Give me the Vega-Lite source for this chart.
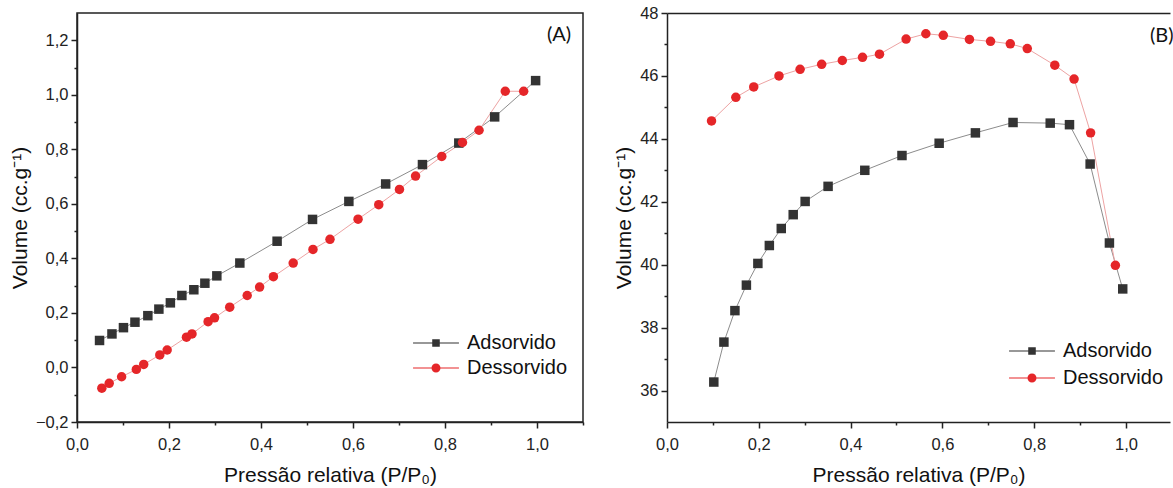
{
  "$schema": "https://vega.github.io/schema/vega-lite/v6.json",
  "padding": {"left": 8, "top": 5, "right": 0, "bottom": 0},
  "spacing": 28,
  "datasets": {
    "A": [
      {"p": 0.049, "v": 0.099, "s": "Adsorvido"},
      {"p": 0.076, "v": 0.123, "s": "Adsorvido"},
      {"p": 0.101, "v": 0.146, "s": "Adsorvido"},
      {"p": 0.126, "v": 0.166, "s": "Adsorvido"},
      {"p": 0.154, "v": 0.19, "s": "Adsorvido"},
      {"p": 0.178, "v": 0.214, "s": "Adsorvido"},
      {"p": 0.203, "v": 0.237, "s": "Adsorvido"},
      {"p": 0.228, "v": 0.264, "s": "Adsorvido"},
      {"p": 0.254, "v": 0.285, "s": "Adsorvido"},
      {"p": 0.278, "v": 0.309, "s": "Adsorvido"},
      {"p": 0.304, "v": 0.336, "s": "Adsorvido"},
      {"p": 0.354, "v": 0.383, "s": "Adsorvido"},
      {"p": 0.435, "v": 0.463, "s": "Adsorvido"},
      {"p": 0.512, "v": 0.543, "s": "Adsorvido"},
      {"p": 0.591, "v": 0.609, "s": "Adsorvido"},
      {"p": 0.671, "v": 0.673, "s": "Adsorvido"},
      {"p": 0.751, "v": 0.744, "s": "Adsorvido"},
      {"p": 0.83, "v": 0.823, "s": "Adsorvido"},
      {"p": 0.908, "v": 0.919, "s": "Adsorvido"},
      {"p": 0.997, "v": 1.052, "s": "Adsorvido"},
      {"p": 0.054, "v": -0.076, "s": "Dessorvido"},
      {"p": 0.07, "v": -0.058, "s": "Dessorvido"},
      {"p": 0.097, "v": -0.034, "s": "Dessorvido"},
      {"p": 0.129, "v": -0.007, "s": "Dessorvido"},
      {"p": 0.145, "v": 0.011, "s": "Dessorvido"},
      {"p": 0.18, "v": 0.046, "s": "Dessorvido"},
      {"p": 0.196, "v": 0.064, "s": "Dessorvido"},
      {"p": 0.238, "v": 0.111, "s": "Dessorvido"},
      {"p": 0.25, "v": 0.123, "s": "Dessorvido"},
      {"p": 0.285, "v": 0.168, "s": "Dessorvido"},
      {"p": 0.299, "v": 0.182, "s": "Dessorvido"},
      {"p": 0.332, "v": 0.221, "s": "Dessorvido"},
      {"p": 0.37, "v": 0.264, "s": "Dessorvido"},
      {"p": 0.397, "v": 0.295, "s": "Dessorvido"},
      {"p": 0.427, "v": 0.333, "s": "Dessorvido"},
      {"p": 0.47, "v": 0.383, "s": "Dessorvido"},
      {"p": 0.513, "v": 0.433, "s": "Dessorvido"},
      {"p": 0.55, "v": 0.47, "s": "Dessorvido"},
      {"p": 0.611, "v": 0.544, "s": "Dessorvido"},
      {"p": 0.656, "v": 0.597, "s": "Dessorvido"},
      {"p": 0.701, "v": 0.653, "s": "Dessorvido"},
      {"p": 0.736, "v": 0.702, "s": "Dessorvido"},
      {"p": 0.793, "v": 0.774, "s": "Dessorvido"},
      {"p": 0.838, "v": 0.825, "s": "Dessorvido"},
      {"p": 0.874, "v": 0.87, "s": "Dessorvido"},
      {"p": 0.931, "v": 1.013, "s": "Dessorvido"},
      {"p": 0.971, "v": 1.013, "s": "Dessorvido"}
    ],
    "B": [
      {"p": 0.102, "v": 36.27, "s": "Adsorvido"},
      {"p": 0.124, "v": 37.54, "s": "Adsorvido"},
      {"p": 0.148, "v": 38.54, "s": "Adsorvido"},
      {"p": 0.173, "v": 39.35, "s": "Adsorvido"},
      {"p": 0.198, "v": 40.04, "s": "Adsorvido"},
      {"p": 0.223, "v": 40.61, "s": "Adsorvido"},
      {"p": 0.249, "v": 41.15, "s": "Adsorvido"},
      {"p": 0.275, "v": 41.59, "s": "Adsorvido"},
      {"p": 0.301, "v": 42.01, "s": "Adsorvido"},
      {"p": 0.351, "v": 42.49, "s": "Adsorvido"},
      {"p": 0.431, "v": 43.0, "s": "Adsorvido"},
      {"p": 0.512, "v": 43.47, "s": "Adsorvido"},
      {"p": 0.593, "v": 43.86, "s": "Adsorvido"},
      {"p": 0.672, "v": 44.19, "s": "Adsorvido"},
      {"p": 0.754, "v": 44.52, "s": "Adsorvido"},
      {"p": 0.835, "v": 44.5, "s": "Adsorvido"},
      {"p": 0.877, "v": 44.45, "s": "Adsorvido"},
      {"p": 0.922, "v": 43.2, "s": "Adsorvido"},
      {"p": 0.964, "v": 40.69, "s": "Adsorvido"},
      {"p": 0.993, "v": 39.23, "s": "Adsorvido"},
      {"p": 0.097, "v": 44.57, "s": "Dessorvido"},
      {"p": 0.15, "v": 45.32, "s": "Dessorvido"},
      {"p": 0.189, "v": 45.65, "s": "Dessorvido"},
      {"p": 0.244, "v": 46.0, "s": "Dessorvido"},
      {"p": 0.29, "v": 46.21, "s": "Dessorvido"},
      {"p": 0.337, "v": 46.37, "s": "Dessorvido"},
      {"p": 0.382, "v": 46.49, "s": "Dessorvido"},
      {"p": 0.426, "v": 46.59, "s": "Dessorvido"},
      {"p": 0.463, "v": 46.69, "s": "Dessorvido"},
      {"p": 0.521, "v": 47.17, "s": "Dessorvido"},
      {"p": 0.564, "v": 47.34, "s": "Dessorvido"},
      {"p": 0.602, "v": 47.29, "s": "Dessorvido"},
      {"p": 0.659, "v": 47.16, "s": "Dessorvido"},
      {"p": 0.705, "v": 47.1, "s": "Dessorvido"},
      {"p": 0.748, "v": 47.02, "s": "Dessorvido"},
      {"p": 0.785, "v": 46.87, "s": "Dessorvido"},
      {"p": 0.845, "v": 46.34, "s": "Dessorvido"},
      {"p": 0.887, "v": 45.9, "s": "Dessorvido"},
      {"p": 0.923, "v": 44.19, "s": "Dessorvido"},
      {"p": 0.977, "v": 39.98, "s": "Dessorvido"}
    ],
    "labA": [{"p": 1.048, "v": 1.218, "t": "(A)"}],
    "labB": [{"p": 1.078, "v": 47.27, "t": "(B)"}]
  },
  "resolve": {"scale": {"color": "independent", "shape": "independent"}},
  "hconcat": [
    {
      "width": 506,
      "height": 409,
      "layer": [
        {
          "data": {"name": "A"},
          "mark": {"type": "line", "strokeWidth": 1},
          "encoding": {
            "x": {"field": "p", "type": "quantitative", "scale": {"domain": [0, 1.1], "nice": false, "zero": false},
              "axis": {"values": [0, 0.1, 0.2, 0.3, 0.4, 0.5, 0.6, 0.7, 0.8, 0.9, 1.0, 1.1], "labelExpr": "round(datum.value*10) % 2 == 0 ? replace(format(datum.value, '.1f'), '.', ',') : ''", "tickSize": {"condition": {"test": "round(datum.value*10) % 2 != 0", "value": 3}, "value": 6}, "title": "Pressão relativa (P/P₀)", "labelPadding": 8, "titlePadding": 12}},
            "y": {"field": "v", "type": "quantitative", "scale": {"domain": [-0.2, 1.3], "nice": false, "zero": false},
              "axis": {"values": [-0.2, -0.1, 0, 0.1, 0.2, 0.3, 0.4, 0.5, 0.6, 0.7, 0.8, 0.9, 1.0, 1.1, 1.2], "labelExpr": "round(datum.value*10) % 2 == 0 ? replace(format(datum.value, '.1f'), '.', ',') : ''", "tickSize": {"condition": {"test": "round(datum.value*10) % 2 != 0", "value": 3}, "value": 6}, "title": "Volume (cc.g⁻¹)", "labelPadding": 3, "titlePadding": 5}},
            "detail": {"field": "s"},
            "stroke": {"condition": {"test": "datum.s === 'Adsorvido'", "value": "#8c8c8c"}, "value": "#eda3a3"}
          }
        },
        {
          "data": {"name": "A"},
          "mark": {"type": "point", "filled": true, "opacity": 1, "size": 90},
          "encoding": {
            "x": {"field": "p", "type": "quantitative", "scale": {"domain": [0, 1.1], "nice": false, "zero": false},
              "axis": {"values": [0, 0.1, 0.2, 0.3, 0.4, 0.5, 0.6, 0.7, 0.8, 0.9, 1.0, 1.1], "labelExpr": "round(datum.value*10) % 2 == 0 ? replace(format(datum.value, '.1f'), '.', ',') : ''", "tickSize": {"condition": {"test": "round(datum.value*10) % 2 != 0", "value": 3}, "value": 6}, "title": "Pressão relativa (P/P₀)", "labelPadding": 8, "titlePadding": 12}},
            "y": {"field": "v", "type": "quantitative", "scale": {"domain": [-0.2, 1.3], "nice": false, "zero": false},
              "axis": {"values": [-0.2, -0.1, 0, 0.1, 0.2, 0.3, 0.4, 0.5, 0.6, 0.7, 0.8, 0.9, 1.0, 1.1, 1.2], "labelExpr": "round(datum.value*10) % 2 == 0 ? replace(format(datum.value, '.1f'), '.', ',') : ''", "tickSize": {"condition": {"test": "round(datum.value*10) % 2 != 0", "value": 3}, "value": 6}, "title": "Volume (cc.g⁻¹)", "labelPadding": 3, "titlePadding": 5}},
            "color": {"condition": {"test": "datum.s === 'Adsorvido'", "value": "#333333"}, "value": "#e52629"},
            "shape": {"condition": {"test": "datum.s === 'Adsorvido'", "value": "square"}, "value": "circle"}
          }
        },
        {
          "data": {"name": "A"},
          "mark": {"type": "point", "filled": true, "opacity": 0, "size": 90},
          "encoding": {
            "x": {"field": "p", "type": "quantitative", "scale": {"domain": [0, 1.1], "nice": false, "zero": false},
              "axis": {"values": [0, 0.1, 0.2, 0.3, 0.4, 0.5, 0.6, 0.7, 0.8, 0.9, 1.0, 1.1], "labelExpr": "round(datum.value*10) % 2 == 0 ? replace(format(datum.value, '.1f'), '.', ',') : ''", "tickSize": {"condition": {"test": "round(datum.value*10) % 2 != 0", "value": 3}, "value": 6}, "title": "Pressão relativa (P/P₀)", "labelPadding": 8, "titlePadding": 12}},
            "y": {"field": "v", "type": "quantitative", "scale": {"domain": [-0.2, 1.3], "nice": false, "zero": false},
              "axis": {"values": [-0.2, -0.1, 0, 0.1, 0.2, 0.3, 0.4, 0.5, 0.6, 0.7, 0.8, 0.9, 1.0, 1.1, 1.2], "labelExpr": "round(datum.value*10) % 2 == 0 ? replace(format(datum.value, '.1f'), '.', ',') : ''", "tickSize": {"condition": {"test": "round(datum.value*10) % 2 != 0", "value": 3}, "value": 6}, "title": "Volume (cc.g⁻¹)", "labelPadding": 3, "titlePadding": 5}},
            "color": {"field": "s", "type": "nominal", "scale": {"domain": ["Adsorvido", "Dessorvido"], "range": ["#333333", "#e52629"]},
              "legend": {"title": null, "orient": "none", "legendX": 349, "legendY": 320, "symbolSize": 324, "symbolOpacity": 1, "symbolStrokeWidth": 0, "labelOffset": 21, "rowPadding": 5, "padding": 0}},
            "shape": {"field": "s", "type": "nominal", "scale": {"domain": ["Adsorvido", "Dessorvido"], "range": ["M-2.55,-0.06H2.55V0.06H-2.55Z M-0.42,-0.42H0.42V0.42H-0.42Z", "M-2.55,-0.06H2.55V0.06H-2.55Z M-0.5,0A0.5,0.5 0 1,1 0.5,0A0.5,0.5 0 1,1 -0.5,0Z"]},
              "legend": {"title": null, "orient": "none", "legendX": 349, "legendY": 320, "symbolSize": 324, "symbolOpacity": 1, "symbolStrokeWidth": 0, "labelOffset": 21, "rowPadding": 5, "padding": 0}}
          }
        },
        {
          "data": {"name": "labA"},
          "mark": {"type": "text", "fontSize": 20, "font": "Lato", "color": "#111"},
          "encoding": {
            "x": {"field": "p", "type": "quantitative", "scale": {"domain": [0, 1.1], "nice": false, "zero": false},
              "axis": {"values": [0, 0.1, 0.2, 0.3, 0.4, 0.5, 0.6, 0.7, 0.8, 0.9, 1.0, 1.1], "labelExpr": "round(datum.value*10) % 2 == 0 ? replace(format(datum.value, '.1f'), '.', ',') : ''", "tickSize": {"condition": {"test": "round(datum.value*10) % 2 != 0", "value": 3}, "value": 6}, "title": "Pressão relativa (P/P₀)", "labelPadding": 8, "titlePadding": 12}},
            "y": {"field": "v", "type": "quantitative", "scale": {"domain": [-0.2, 1.3], "nice": false, "zero": false},
              "axis": {"values": [-0.2, -0.1, 0, 0.1, 0.2, 0.3, 0.4, 0.5, 0.6, 0.7, 0.8, 0.9, 1.0, 1.1, 1.2], "labelExpr": "round(datum.value*10) % 2 == 0 ? replace(format(datum.value, '.1f'), '.', ',') : ''", "tickSize": {"condition": {"test": "round(datum.value*10) % 2 != 0", "value": 3}, "value": 6}, "title": "Volume (cc.g⁻¹)", "labelPadding": 3, "titlePadding": 5}},
            "text": {"field": "t"}
          }
        }
      ]
    },
    {
      "width": 503,
      "height": 409,
      "view": {"stroke": null},
      "resolve": {"axis": {"x": "independent"}},
      "layer": [
        {
          "data": {"name": "B"},
          "mark": {"type": "line", "strokeWidth": 1},
          "encoding": {
            "x": {"field": "p", "type": "quantitative", "scale": {"domain": [0, 1.096], "nice": false, "zero": false}, "axis": null},
            "y": {"field": "v", "type": "quantitative", "scale": {"domain": [35, 48], "nice": false, "zero": false},
              "axis": {"values": [36, 37, 38, 39, 40, 41, 42, 43, 44, 45, 46, 47, 48], "labelExpr": "datum.value % 2 == 0 ? format(datum.value, 'd') : ''", "tickSize": {"condition": {"test": "datum.value % 2 != 0", "value": 3}, "value": 6}, "title": "Volume (cc.g⁻¹)", "labelPadding": 3, "titlePadding": 5}},
            "detail": {"field": "s"},
            "stroke": {"condition": {"test": "datum.s === 'Adsorvido'", "value": "#8c8c8c"}, "value": "#eda3a3"}
          }
        },
        {
          "data": {"name": "B"},
          "mark": {"type": "point", "filled": true, "opacity": 1, "size": 90},
          "encoding": {
            "x": {"field": "p", "type": "quantitative", "scale": {"domain": [0, 1.096], "nice": false, "zero": false},
              "axis": {"orient": "bottom", "values": [0, 0.1, 0.2, 0.3, 0.4, 0.5, 0.6, 0.7, 0.8, 0.9, 1.0], "labelExpr": "round(datum.value*10) % 2 == 0 ? replace(format(datum.value, '.1f'), '.', ',') : ''", "tickSize": {"condition": {"test": "round(datum.value*10) % 2 != 0", "value": 3}, "value": 6}, "title": "Pressão relativa (P/P₀)", "labelPadding": 8, "titlePadding": 12}},
            "y": {"field": "v", "type": "quantitative", "scale": {"domain": [35, 48], "nice": false, "zero": false},
              "axis": {"values": [36, 37, 38, 39, 40, 41, 42, 43, 44, 45, 46, 47, 48], "labelExpr": "datum.value % 2 == 0 ? format(datum.value, 'd') : ''", "tickSize": {"condition": {"test": "datum.value % 2 != 0", "value": 3}, "value": 6}, "title": "Volume (cc.g⁻¹)", "labelPadding": 3, "titlePadding": 5}},
            "color": {"condition": {"test": "datum.s === 'Adsorvido'", "value": "#333333"}, "value": "#e52629"},
            "shape": {"condition": {"test": "datum.s === 'Adsorvido'", "value": "square"}, "value": "circle"}
          }
        },
        {
          "data": {"name": "B"},
          "mark": {"type": "point", "filled": true, "opacity": 0, "size": 90},
          "encoding": {
            "x": {"field": "p", "type": "quantitative", "scale": {"domain": [0, 1.096], "nice": false, "zero": false}, "axis": null},
            "y": {"field": "v", "type": "quantitative", "scale": {"domain": [35, 48], "nice": false, "zero": false},
              "axis": {"values": [36, 37, 38, 39, 40, 41, 42, 43, 44, 45, 46, 47, 48], "labelExpr": "datum.value % 2 == 0 ? format(datum.value, 'd') : ''", "tickSize": {"condition": {"test": "datum.value % 2 != 0", "value": 3}, "value": 6}, "title": "Volume (cc.g⁻¹)", "labelPadding": 3, "titlePadding": 5}},
            "color": {"field": "s", "type": "nominal", "scale": {"domain": ["Adsorvido", "Dessorvido"], "range": ["#333333", "#e52629"]},
              "legend": {"title": null, "orient": "none", "legendX": 355, "legendY": 328, "symbolSize": 324, "symbolOpacity": 1, "symbolStrokeWidth": 0, "labelOffset": 21, "rowPadding": 7, "padding": 0}},
            "shape": {"field": "s", "type": "nominal", "scale": {"domain": ["Adsorvido", "Dessorvido"], "range": ["M-2.55,-0.06H2.55V0.06H-2.55Z M-0.42,-0.42H0.42V0.42H-0.42Z", "M-2.55,-0.06H2.55V0.06H-2.55Z M-0.5,0A0.5,0.5 0 1,1 0.5,0A0.5,0.5 0 1,1 -0.5,0Z"]},
              "legend": {"title": null, "orient": "none", "legendX": 355, "legendY": 328, "symbolSize": 324, "symbolOpacity": 1, "symbolStrokeWidth": 0, "labelOffset": 21, "rowPadding": 7, "padding": 0}}
          }
        },
        {
          "data": {"name": "labB"},
          "mark": {"type": "text", "fontSize": 20, "font": "Lato", "color": "#111"},
          "encoding": {
            "x": {"field": "p", "type": "quantitative", "scale": {"domain": [0, 1.096], "nice": false, "zero": false},
              "axis": {"orient": "top", "labels": false, "ticks": false, "title": null, "domain": true, "values": [0.5]}},
            "y": {"field": "v", "type": "quantitative", "scale": {"domain": [35, 48], "nice": false, "zero": false},
              "axis": {"values": [36, 37, 38, 39, 40, 41, 42, 43, 44, 45, 46, 47, 48], "labelExpr": "datum.value % 2 == 0 ? format(datum.value, 'd') : ''", "tickSize": {"condition": {"test": "datum.value % 2 != 0", "value": 3}, "value": 6}, "title": "Volume (cc.g⁻¹)", "labelPadding": 3, "titlePadding": 5}},
            "text": {"field": "t"}
          }
        }
      ]
    }
  ],
  "config": {
    "font": "Liberation Sans",
    "background": "white",
    "view": {"stroke": "#222", "strokeWidth": 1.5},
    "axis": {"domainColor": "#222", "domainWidth": 1.5, "tickColor": "#222", "tickWidth": 1.5, "labelFontSize": 16.5, "labelColor": "#222", "labelFont": "Liberation Sans", "titleFont": "Liberation Sans", "titleFontSize": 21, "titleFontWeight": "normal", "titleColor": "#111", "grid": false, "labelOverlap": false, "labelFlush": false},
    "legend": {"labelFontSize": 20, "labelColor": "#111", "labelFont": "Liberation Sans"}
  }
}
